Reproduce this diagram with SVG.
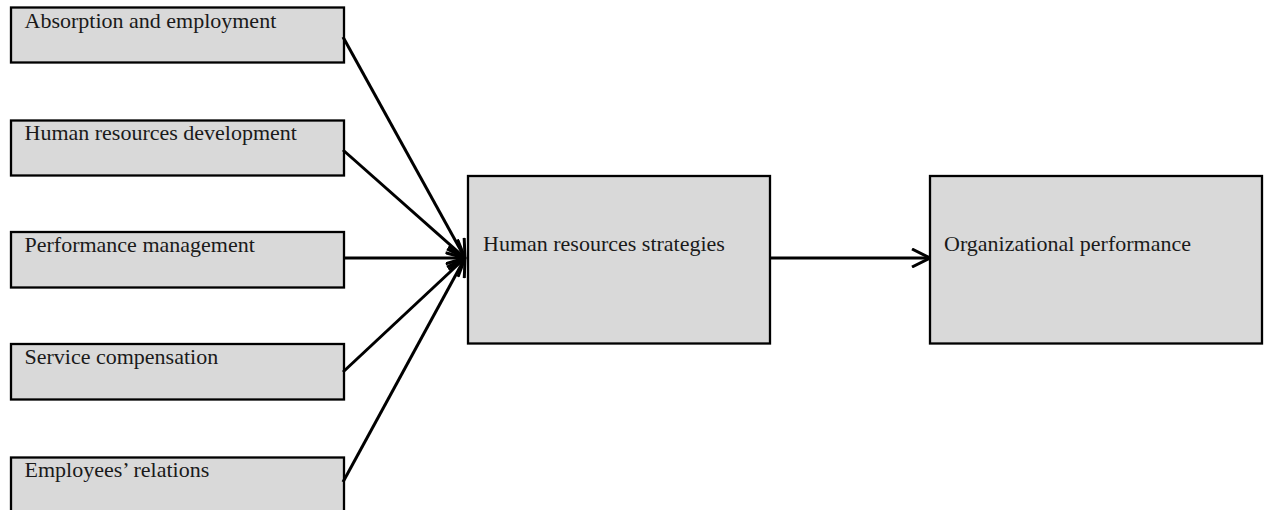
<svg xmlns="http://www.w3.org/2000/svg" width="1264" height="510" viewBox="0 0 1264 510">
<style>
.box{fill:#d9d9d9;stroke:#000;stroke-width:2.3}
.lbl{font-family:"Liberation Serif","Times New Roman","DejaVu Serif",serif;font-size:22px;fill:#1a1a1a}
.con{stroke:#000;stroke-width:3;fill:none;marker-end:url(#arr)}
</style>
<defs>
<marker id="arr" viewBox="0 0 20 20" refX="19" refY="10" markerWidth="20" markerHeight="20" markerUnits="userSpaceOnUse" orient="auto">
<path d="M1,1 L19,10 L1,19" fill="none" stroke="#000" stroke-width="3"/>
</marker>
</defs>
<rect width="1264" height="510" fill="#fff"/>
<g id="n1"><rect class="box" x="11" y="7.5" width="333" height="55"/><text class="lbl" x="24.5" y="27.5">Absorption and employment</text></g>
<g id="n2"><rect class="box" x="11" y="120.5" width="333" height="55"/><text class="lbl" x="24.5" y="139.5">Human resources development</text></g>
<g id="n3"><rect class="box" x="11" y="232" width="333" height="55.5"/><text class="lbl" x="24.5" y="251.5">Performance management</text></g>
<g id="n4"><rect class="box" x="11" y="344" width="333" height="55.5"/><text class="lbl" x="24.5" y="363.5">Service compensation</text></g>
<g id="n5"><rect class="box" x="11" y="457.5" width="333" height="60"/><text class="lbl" x="24.5" y="477">Employees’ relations</text></g>
<g id="n6"><rect class="box" x="468" y="176" width="302" height="167.5"/><text class="lbl" x="483" y="250.5">Human resources strategies</text></g>
<g id="n7"><rect class="box" x="930" y="176" width="332" height="167.5"/><text class="lbl" x="944" y="250.5">Organizational performance</text></g>
<g id="connectors">
<line class="con" x1="343" y1="37" x2="465" y2="258"/>
<line class="con" x1="343" y1="150" x2="465" y2="258"/>
<line class="con" x1="343" y1="258" x2="465" y2="258"/>
<line class="con" x1="343" y1="372" x2="465" y2="258"/>
<line class="con" x1="343" y1="482" x2="465" y2="258"/>
<line class="con" x1="770" y1="258" x2="930" y2="258"/>
</g>
</svg>
